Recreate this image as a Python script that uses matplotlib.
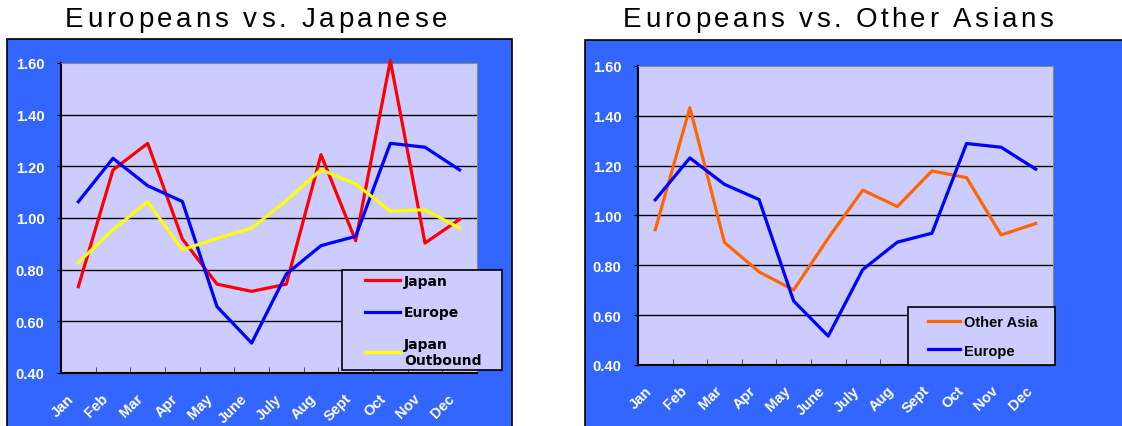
import matplotlib
matplotlib.use("Agg")
from matplotlib import pyplot as plt
from matplotlib import font_manager
from matplotlib.font_manager import FontProperties
from matplotlib.patches import Rectangle
from matplotlib.transforms import ScaledTranslation
import numpy as np

months = ["Jan", "Feb", "Mar", "Apr", "May", "June", "July", "Aug", "Sept", "Oct", "Nov", "Dec"]

japan = [0.734, 1.186, 1.289, 0.919, 0.744, 0.716, 0.744, 1.245, 0.912, 1.61, 0.903, 0.995]
europe = [1.063, 1.231, 1.125, 1.064, 0.657, 0.516, 0.783, 0.893, 0.929, 1.289, 1.274, 1.186]
japan_outbound = [0.828, 0.955, 1.063, 0.877, 0.921, 0.961, 1.067, 1.187, 1.132, 1.026, 1.032, 0.961]
other_asia = [0.943, 1.433, 0.892, 0.774, 0.701, 0.909, 1.102, 1.036, 1.179, 1.152, 0.922, 0.968]

yticks = [0.4, 0.6, 0.8, 1.0, 1.2, 1.4, 1.6]

PANEL = "#3366FF"
FACE = "#CCCCFF"
W, H = 1122, 427
DPI = 100


def px(box):
    # pixel box (left, top, right, bottom) -> figure fraction
    x0, y0, x1, y1 = box
    return [x0 / W, 1 - y1 / H, (x1 - x0) / W, (y1 - y0) / H]


def ax_xy(box, xp, yp):
    # pixel point -> axes fraction for an axes placed at box
    x0, y0, x1, y1 = box
    return (xp - x0) / (x1 - x0), (y1 - yp) / (y1 - y0)


def spaced_title(fig, xc, ytop, s, width, size=20, family="Liberation Sans"):
    # lay the title out glyph by glyph so it gets the wide letter spacing
    prop = FontProperties(family=family, size=size)
    font = font_manager.get_font(font_manager.findfont(prop))
    font.set_size(size, DPI)
    adv = []
    for ch in s:
        g = font.load_char(ord(ch))
        adv.append(g.linearHoriAdvance / 65536.0)
    track = (width - sum(adv)) / (len(s) - 1)
    x = xc - width / 2.0
    for ch, a in zip(s, adv):
        fig.text(x / W, 1 - ytop / H, ch, fontproperties=prop, ha="left", va="top",
                 color="black")
        x += a + track


def style_axes(ax, dx):
    x = np.arange(len(months))
    ax.set_zorder(2)
    ax.set_facecolor(FACE)
    ax.set_xlim(-0.5, len(months) - 0.5)
    ax.set_ylim(0.4, 1.6)
    ax.set_yticks(yticks)
    ax.set_yticklabels(["%.2f" % v for v in yticks])
    ax.set_xticks(x)
    ax.set_xticklabels(months)
    ax.set_xticks(np.arange(0.5, len(months) - 1), minor=True)
    ax.tick_params(axis="x", which="major", length=0, pad=13)
    ax.tick_params(axis="x", which="minor", direction="in", length=4, color="#333333")
    ax.tick_params(axis="y", length=3, pad=9)
    shift = ScaledTranslation(dx / DPI, 0, ax.figure.dpi_scale_trans)
    for lab in ax.get_xticklabels():
        lab.set_rotation(45)
        lab.set_ha("right")
        lab.set_va("top")
        lab.set_rotation_mode("anchor")
        lab.set_transform(lab.get_transform() + shift)
    for lab in ax.get_xticklabels() + ax.get_yticklabels():
        lab.set_color("white")
        lab.set_fontweight("bold")
        lab.set_fontsize(10.5)
        lab.set_family("Liberation Sans")
    for y in yticks[1:-1]:
        ax.axhline(y, color="black", lw=1, zorder=1)
    ax.spines["top"].set_color("#888888")
    ax.spines["right"].set_color("#888888")
    ax.spines["left"].set_linewidth(1.5)
    ax.spines["bottom"].set_linewidth(1.5)
    return x


def boxed_legend(ax, box, frame, first, prop, handlelength, spacing):
    # square frame drawn separately so the padding can differ per side
    fx0, fy0 = ax_xy(box, frame[0], frame[3])
    fx1, fy1 = ax_xy(box, frame[2], frame[1])
    ax.add_patch(Rectangle((fx0, fy0), fx1 - fx0, fy1 - fy0, transform=ax.transAxes,
                           facecolor=FACE, edgecolor="black", lw=1.2,
                           clip_on=False, zorder=4))
    leg = ax.legend(loc="upper left", bbox_to_anchor=ax_xy(box, *first),
                    frameon=False, handlelength=handlelength, handletextpad=0.3,
                    borderpad=0, labelspacing=spacing, borderaxespad=0, prop=prop)
    leg.set_zorder(5)
    return leg


fig = plt.figure(figsize=(W / DPI, H / DPI), dpi=DPI)

fig.patches.append(Rectangle((7 / W, -0.1), 505 / W, 1.1 - 40 / H, transform=fig.transFigure,
                             facecolor=PANEL, edgecolor="black", lw=1.2, zorder=-1))
fig.patches.append(Rectangle((585 / W, -0.1), 600 / W, 1.1 - 41 / H, transform=fig.transFigure,
                             facecolor=PANEL, edgecolor="black", lw=1.2, zorder=-1))

spaced_title(fig, 256, 7, "Europeans vs. Japanese", 382)
spaced_title(fig, 838, 7, "Europeans vs. Other Asians", 430)

# left panel: Japan, Europe and Japanese outbound travel
box1 = (61, 64, 477, 374)
ax1 = fig.add_axes(px(box1))
x = style_axes(ax1, -12)
ax1.plot(x, japan, color="#FF0000", lw=2.3, label="Japan", zorder=3, clip_on=False)
ax1.plot(x, europe, color="#0000FF", lw=2.3, label="Europe", zorder=3)
ax1.plot(x, japan_outbound, color="#FFFF00", lw=2.3, label="Japan\nOutbound", zorder=3)
boxed_legend(ax1, box1, (342, 271, 502, 371), (365, 275),
             {"family": "DejaVu Sans", "weight": "bold", "size": 10}, 2.5, 1.25)

# right panel: other Asian markets against Europe
box2 = (638, 67, 1053, 366)
ax2 = fig.add_axes(px(box2))
x = style_axes(ax2, -10)
ax2.plot(x, other_asia, color="#FF6600", lw=2.3, label="Other Asia", zorder=3)
ax2.plot(x, europe, color="#0000FF", lw=2.3, label="Europe", zorder=3)
boxed_legend(ax2, box2, (908, 308, 1055, 366), (928, 316),
             {"family": "Liberation Sans", "weight": "bold", "size": 10.5}, 2.2, 1.0)

fig.savefig("out.png", dpi=DPI)
